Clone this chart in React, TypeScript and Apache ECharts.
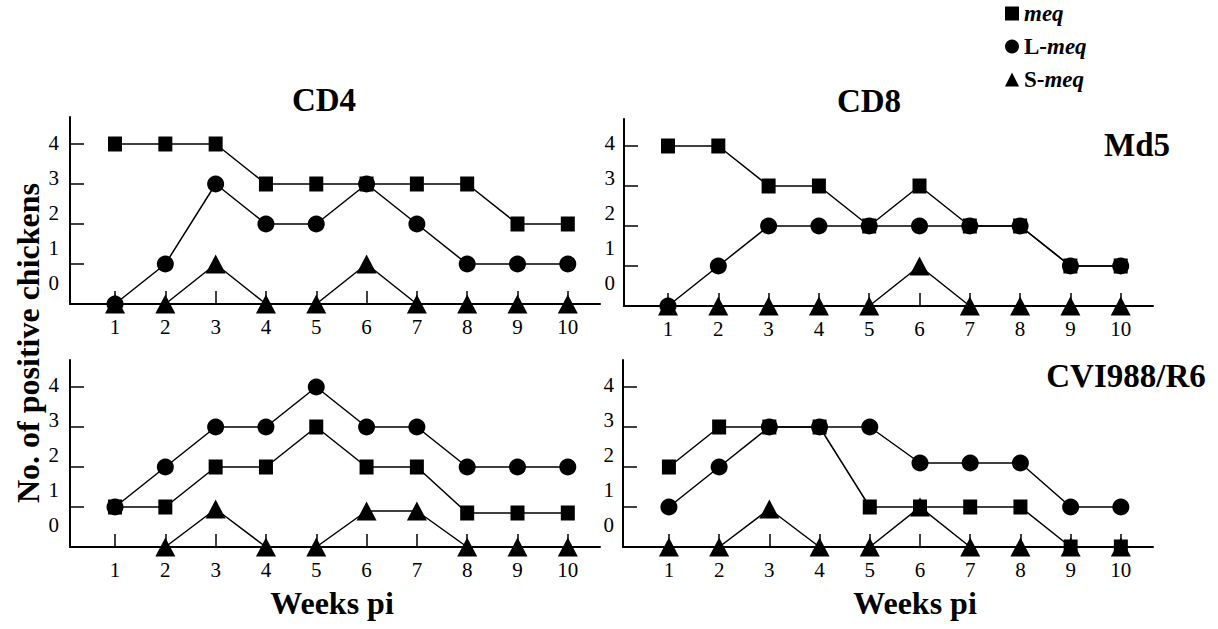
import { useEffect, useRef } from "react";
import * as echarts from "echarts";

const weeks = [1, 2, 3, 4, 5, 6, 7, 8, 9, 10];
const yTickValues = [0, 1, 2, 3, 4];
const seriesNames = ["meq", "L-meq", "S-meq"];

// CD4 / Md5
const cd4Md5Meq = [4, 4, 4, 3, 3, 3, 3, 3, 2, 2];
const cd4Md5LMeq = [0, 1, 3, 2, 2, 3, 2, 1, 1, 1];
const cd4Md5SMeq = [0, 0, 1, 0, 0, 1, 0, 0, 0, 0];
// CD8 / Md5
const cd8Md5Meq = [4, 4, 3, 3, 2, 3, 2, 2, 1, 1];
const cd8Md5LMeq = [0, 1, 2, 2, 2, 2, 2, 2, 1, 1];
const cd8Md5SMeq = [0, 0, 0, 0, 0, 1, 0, 0, 0, 0];
// CD4 / CVI988/R6
const cd4CviMeq = [1, 1, 2, 2, 3, 2, 2, 0.85, 0.85, 0.85];
const cd4CviLMeq = [1, 2, 3, 3, 4, 3, 3, 2, 2, 2];
const cd4CviSMeq = [null, 0, 0.95, 0, 0, 0.9, 0.9, 0, 0, 0];
// CD8 / CVI988/R6
const cd8CviMeq = [2, 3, 3, 3, 1, 1, 1, 1, 0, 0];
const cd8CviLMeq = [1, 2, 3, 3, 3, 2.1, 2.1, 2.1, 1, 1];
const cd8CviSMeq = [0, 0, 0.95, 0, 0, 1, 0, 0, 0, 0];

const FONT = '"Liberation Serif", "Times New Roman", serif';

const panels = [
  { left: 70, top: 117, width: 530, height: 187, xMin: 0.105, xMax: 10.64, label0: 21, lblMargin: 11, data: [cd4Md5Meq, cd4Md5LMeq, cd4Md5SMeq] },
  { left: 624, top: 119, width: 529, height: 187, xMin: 0.125, xMax: 10.642, label0: 23, lblMargin: 9, data: [cd8Md5Meq, cd8Md5LMeq, cd8Md5SMeq] },
  { left: 70, top: 360, width: 530, height: 187, xMin: 0.105, xMax: 10.64, label0: 22, lblMargin: 11, data: [cd4CviMeq, cd4CviLMeq, cd4CviSMeq] },
  { left: 623, top: 360, width: 530, height: 187, xMin: 0.0855, xMax: 10.64, label0: 22, lblMargin: 9, data: [cd8CviMeq, cd8CviLMeq, cd8CviSMeq] },
];

const symbols: any[] = [
  { symbol: "rect", symbolSize: [14, 15] },
  { symbol: "circle", symbolSize: 17 },
  { symbol: "triangle", symbolSize: [20, 19] },
];

export default function App() {
  const ref = useRef<HTMLDivElement>(null);
  useEffect(() => {
    document.body.style.margin = "0";
    if (!ref.current) return;
    const chart = echarts.init(ref.current, undefined, { renderer: "svg" });

    const grid: any[] = [];
    const xAxis: any[] = [];
    const yAxis: any[] = [];
    const series: any[] = [];

    panels.forEach((p, g) => {
      grid.push({ left: p.left, top: p.top, width: p.width, height: p.height, containLabel: false });
      xAxis.push({
        type: "value",
        gridIndex: g,
        min: p.xMin,
        max: p.xMax,
        axisLine: { show: true, onZero: false, lineStyle: { color: "#000", width: 2 } },
        axisTick: { show: true, inside: true, length: 13, customValues: weeks, lineStyle: { color: "#000", width: 1.5 } },
        axisLabel: { show: true, customValues: weeks, margin: 12, color: "#000", fontSize: 21, fontFamily: FONT },
        splitLine: { show: false },
      });
      const yMax = p.height / 40;
      yAxis.push({
        type: "value",
        gridIndex: g,
        min: 0,
        max: yMax,
        position: "left",
        axisLine: { show: true, onZero: false, lineStyle: { color: "#000", width: 2 } },
        axisTick: { show: true, inside: true, length: 14, customValues: yTickValues.slice(1), lineStyle: { color: "#000", width: 1.5 } },
        axisLabel: { show: false },
        splitLine: { show: false },
      });
      const lMin = -p.label0 / 35;
      yAxis.push({
        type: "value",
        gridIndex: g,
        min: lMin,
        max: lMin + p.height / 35,
        position: "left",
        axisLine: { show: false },
        axisTick: { show: false },
        axisLabel: { show: true, customValues: yTickValues, margin: p.lblMargin, color: "#000", fontSize: 21, fontFamily: FONT },
        splitLine: { show: false },
      });
      // draw order: S-meq, L-meq, meq
      [2, 1, 0].forEach((k) => {
        series.push({
          type: "line",
          name: seriesNames[k],
          xAxisIndex: g,
          yAxisIndex: g * 2,
          data: weeks.map((w, i) => [w, p.data[k][i]]),
          symbol: symbols[k].symbol,
          symbolSize: symbols[k].symbolSize,
          showAllSymbol: true,
          connectNulls: false,
          itemStyle: { color: "#000" },
          lineStyle: { color: "#000", width: 1.5 },
          z: 3,
        });
      });
    });

    const txt = (text: string, x: number, y: number, size: number, rotation = 0) => ({
      type: "text",
      x,
      y,
      rotation,
      style: {
        text,
        fill: "#000",
        font: `bold ${size}px ${FONT}`,
        textAlign: "center",
        textVerticalAlign: "middle",
      },
    });

    chart.setOption({
      animation: false,
      backgroundColor: "#fff",
      grid,
      xAxis,
      yAxis,
      series,
      legend: {
        orient: "vertical",
        left: 1000,
        top: 0,
        padding: [2, 5, 5, 5],
        itemWidth: 14,
        itemHeight: 14,
        itemGap: 10,
        selectedMode: false,
        data: [
          { name: "meq", icon: "rect" },
          { name: "L-meq", icon: "circle" },
          { name: "S-meq", icon: "triangle" },
        ],
        formatter: (name: string) => (name === "meq" ? "{i|meq}" : `{b|${name.slice(0, 2)}}{i|meq}`),
        textStyle: {
          color: "#000",
          rich: {
            b: { fontFamily: FONT, fontWeight: "bold", fontSize: 23, lineHeight: 20, color: "#000" },
            i: { fontFamily: FONT, fontWeight: "bold", fontStyle: "italic", fontSize: 23, lineHeight: 20, color: "#000" },
          },
        },
      },
      graphic: [
        txt("CD4", 324, 100, 33),
        txt("CD8", 869, 101, 33),
        txt("Md5", 1137, 145, 33),
        txt("CVI988/R6", 1126, 376, 33),
        txt("Weeks pi", 332, 603, 32),
        txt("Weeks pi", 915, 603, 32),
        txt("No. of positive chickens", 28, 343, 32, Math.PI / 2),
      ],
    });
    return () => chart.dispose();
  }, []);
  return <div ref={ref} style={{ width: 1218, height: 629 }} />;
}
